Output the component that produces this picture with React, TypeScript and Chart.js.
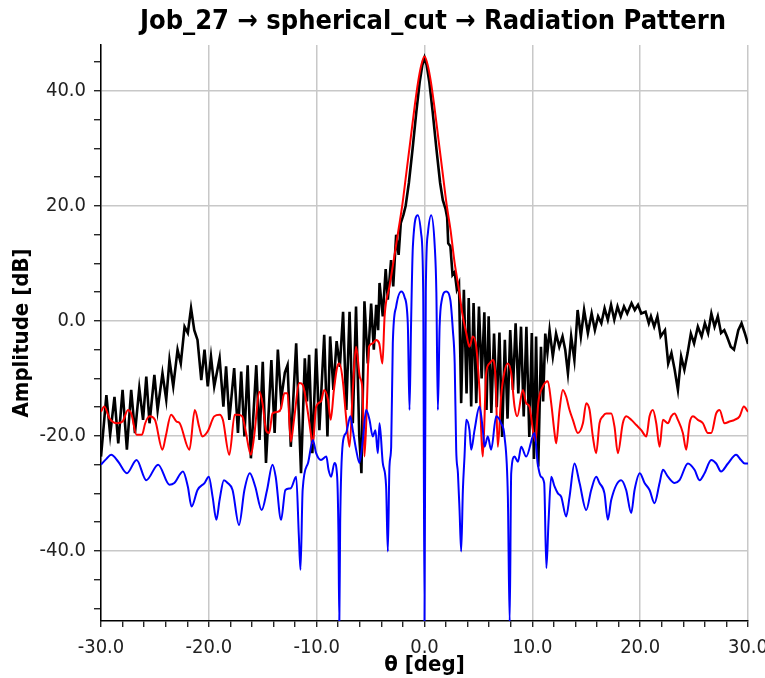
import React, { useEffect, useRef } from "react";
import { Chart, registerables } from "chart.js";

Chart.register(...registerables);

const TITLE = "Job_27 → spherical_cut → Radiation Pattern";
const X_LABEL = "θ [deg]";
const Y_LABEL = "Amplitude [dB]";

const X_MIN = -30;
const X_MAX = 30;
const Y_MIN = -52.2;
const Y_MAX = 48;

// [theta (deg), amplitude (dB)]
const blackPoints: [number, number][] = [
  [-30.0, -23.6], [-29.5, -12.9], [-29.15, -19.8], [-28.75, -13.2], [-28.4, -21.3], [-28.0, -12.0],
  [-27.6, -22.4], [-27.2, -12.0], [-26.85, -19.5], [-26.45, -11.7], [-26.1, -17.2], [-25.8, -9.7],
  [-25.5, -17.8], [-25.05, -9.4], [-24.75, -15.5], [-24.3, -9.1], [-23.95, -13.7], [-23.65, -6.8],
  [-23.3, -11.4], [-22.9, -5.0], [-22.6, -7.4], [-22.25, -1.0], [-21.95, -2.1], [-21.65, 2.2],
  [-21.35, -1.6], [-21.05, -3.3], [-20.7, -10.3], [-20.4, -5.0], [-20.1, -11.4],
  [-19.8, -6.2], [-19.5, -11.4], [-19.0, -6.5], [-18.65, -14.9], [-18.4, -7.9], [-18.1, -17.2],
  [-17.65, -8.2], [-17.3, -19.5], [-17.0, -8.8], [-16.7, -20.1], [-16.4, -7.7], [-16.1, -23.9],
  [-15.6, -7.7], [-15.3, -20.7], [-15.0, -7.1], [-14.7, -24.7], [-14.2, -6.8], [-13.9, -19.5],
  [-13.6, -5.0], [-13.3, -13.7], [-12.95, -9.0], [-12.7, -7.7], [-12.4, -21.9], [-11.9, -3.9],
  [-11.45, -26.5], [-11.1, -6.5], [-10.9, -14.0], [-10.7, -5.9], [-10.4, -23.0], [-10.05, -4.8],
  [-9.75, -19.0], [-9.3, -2.4], [-9.0, -20.1],
  [-8.75, -2.7], [-8.45, -12.0], [-8.15, -3.5], [-7.85, -8.0], [-7.55, 1.6], [-7.25, -15.5],
  [-6.95, 1.6], [-6.65, -17.8], [-6.35, 2.5], [-6.05, -20.0], [-5.85, -26.5], [-5.57, 3.4],
  [-5.26, -7.4], [-4.95, 3.0], [-4.7, -5.0], [-4.48, 2.8], [-4.3, -1.6], [-4.17, 6.6],
  [-3.87, 0.8], [-3.6, 9.0], [-3.4, 3.7], [-3.1, 10.6], [-2.9, 6.0], [-2.63, 15.0],
  [-2.4, 11.5], [-2.2, 17.0], [-1.95, 18.5], [-1.75, 20.0], [-1.45, 24.0], [-1.1, 30.0],
  [-0.75, 36.5], [-0.45, 41.5], [-0.2, 44.5], [0.0, 45.8], [0.2, 44.5], [0.45, 41.5],
  [0.75, 36.5], [1.1, 30.0], [1.45, 24.0], [1.7, 21.0], [1.95, 19.5], [2.1, 18.0],
  [2.2, 13.5], [2.4, 13.0], [2.6, 8.0], [2.8, 8.5], [3.0, 5.5], [3.2, 6.5],
  [3.4, -14.3], [3.65, 5.4], [3.9, -12.6], [4.1, 4.0], [4.33, -14.9], [4.55, 3.1],
  [4.8, -14.3], [5.05, 2.5], [5.3, -10.0], [5.55, 1.5], [5.75, -15.5], [5.95, 0.8],
  [6.2, -16.0], [6.45, -2.2], [6.7, -15.0], [6.95, -2.0], [7.2, -20.2], [7.45, -3.3],
  [7.7, -17.0], [7.95, -1.6], [8.2, -12.0], [8.45, -0.4], [8.7, -12.6], [8.95, -1.0],
  [9.2, -16.6], [9.45, -1.0], [9.72, -20.2], [9.95, -2.1], [10.15, -24.0], [10.35, -2.7],
  [10.55, -25.3], [10.8, -4.5], [11.0, -14.0], [11.2, -2.2], [11.4, -5.5], [11.6, -1.6],
  [11.9, -6.2], [12.2, -2.2], [12.5, -4.5], [12.8, -2.7], [13.05, -5.0], [13.3, -9.1],
  [13.6, -2.7], [13.9, -6.8], [14.2, 1.9], [14.5, -2.7], [14.8, 1.9], [15.15, -2.1],
  [15.5, 1.3], [15.8, -1.6], [16.1, 0.8], [16.4, -0.4], [16.7, 2.2], [17.0, 0.2],
  [17.3, 2.8], [17.6, 0.2], [17.9, 2.5], [18.2, 0.8], [18.5, 2.5], [18.8, 1.3],
  [19.2, 3.1], [19.5, 1.9], [19.8, 2.8], [20.1, 1.3], [20.5, 1.6], [20.8, -0.4],
  [21.0, 0.8], [21.3, -1.0], [21.6, 0.8], [21.9, -2.7], [22.3, -1.6], [22.6, -7.4],
  [22.9, -5.6], [23.2, -8.5], [23.5, -12.0], [23.8, -6.2], [24.1, -8.5], [24.4, -5.6],
  [24.7, -2.2], [25.0, -3.9], [25.35, -1.0], [25.7, -2.7], [26.0, -0.4], [26.3, -2.1],
  [26.6, 1.3], [26.9, -1.0], [27.2, 0.8], [27.5, -2.1], [27.8, -1.6], [28.05, -2.7],
  [28.4, -4.5], [28.7, -5.0], [29.1, -1.6], [29.4, -0.4], [29.7, -2.1], [30.0, -4.0],
];

const redPoints: [number, number][] = [
  [-30.0, -15.8], [-29.7, -14.9], [-29.2, -17.0], [-28.5, -17.8], [-28.0, -17.5], [-27.5, -15.5],
  [-27.2, -16.1], [-26.7, -19.8], [-26.2, -19.8], [-25.9, -17.8], [-25.5, -16.6], [-25.0, -17.2],
  [-24.3, -22.4], [-24.0, -20.1], [-23.5, -16.3], [-23.0, -17.5], [-22.7, -17.8], [-21.8, -22.4],
  [-21.3, -15.5], [-20.9, -18.4], [-20.6, -20.1], [-20.1, -19.2], [-19.5, -16.6], [-19.0, -16.3],
  [-18.7, -17.2], [-18.1, -23.3], [-17.6, -16.3], [-17.3, -16.3], [-16.9, -16.6], [-16.6, -19.0],
  [-16.1, -23.3], [-15.8, -20.1], [-15.3, -12.3], [-15.0, -14.6], [-14.7, -19.0], [-14.4, -19.5],
  [-14.1, -16.1], [-13.6, -15.8], [-13.3, -15.2], [-13.0, -12.6], [-12.7, -12.6], [-12.4, -21.0],
  [-12.1, -17.2], [-11.6, -10.8], [-11.3, -11.1], [-10.8, -16.1], [-10.5, -20.1], [-10.35, -21.3],
  [-10.05, -14.9], [-9.6, -14.0], [-9.3, -12.0], [-8.95, -13.7], [-8.7, -17.2], [-8.4, -12.0],
  [-8.1, -8.0], [-7.9, -7.4], [-7.6, -10.0], [-7.25, -17.2], [-6.95, -21.9], [-6.65, -12.0],
  [-6.35, -4.5], [-6.0, -9.7], [-5.75, -12.0], [-5.57, -23.6], [-5.35, -15.0], [-5.15, -4.5],
  [-4.8, -3.9], [-4.5, -3.3], [-4.2, -3.9], [-3.9, -7.4], [-3.7, 0.8], [-3.25, 6.0],
  [-2.8, 11.2], [-2.4, 16.0], [-2.07, 20.0], [-1.7, 25.5], [-1.3, 31.5], [-0.9, 37.5],
  [-0.6, 41.5], [-0.3, 44.5], [0.0, 46.0], [0.3, 44.5], [0.6, 41.5], [0.9, 37.5],
  [1.3, 31.5], [1.7, 25.5], [2.07, 20.0], [2.4, 16.0], [2.8, 10.0], [3.2, 5.4],
  [3.5, 1.3], [3.87, -2.1], [4.17, -4.5], [4.48, -2.7], [4.8, -4.5], [5.1, -12.0],
  [5.41, -23.6], [5.72, -9.1], [6.03, -7.4], [6.34, -6.8], [6.6, -10.3], [6.8, -21.9],
  [7.1, -13.2], [7.4, -9.0], [7.73, -7.4], [8.04, -9.1], [8.35, -14.9], [8.6, -16.6],
  [9.12, -12.0], [9.43, -14.3], [9.74, -14.9], [10.05, -19.0], [10.3, -21.0], [10.55, -14.3],
  [10.98, -11.4], [11.44, -10.5], [11.75, -14.3], [12.06, -19.5], [12.21, -21.3], [12.52, -15.5],
  [12.83, -12.0], [13.14, -13.2], [13.45, -15.5], [13.76, -17.2], [14.22, -19.5], [14.69, -17.8],
  [15.0, -14.3], [15.31, -15.5], [15.61, -20.1], [15.92, -23.0], [16.23, -17.8], [16.54, -16.6],
  [16.85, -16.1], [17.32, -16.1], [17.62, -18.4], [17.93, -23.0], [18.39, -17.8], [18.71, -16.6],
  [19.17, -17.2], [19.64, -18.1], [20.1, -19.0], [20.57, -20.1], [20.87, -16.6], [21.18, -15.5],
  [21.49, -17.8], [21.8, -21.9], [22.11, -17.2], [22.57, -17.8], [22.88, -16.6], [23.19, -16.1],
  [23.5, -17.2], [23.96, -19.5], [24.27, -22.4], [24.58, -17.8], [24.89, -16.6], [25.35, -17.2],
  [25.82, -17.8], [26.28, -19.5], [26.59, -19.5], [27.05, -16.1], [27.36, -15.5], [27.83, -17.8],
  [28.29, -17.5], [28.76, -17.2], [29.22, -16.6], [29.62, -14.9], [30.0, -15.8],
];

const bluePoints: [number, number][] = [
  [-30.0, -25.0], [-29.5, -24.0], [-29.06, -23.3], [-28.4, -24.5], [-27.6, -26.5], [-26.7, -24.2],
  [-25.8, -27.7], [-24.7, -25.0], [-23.65, -28.5], [-23.2, -28.2], [-22.4, -26.2], [-21.95, -28.8],
  [-21.6, -32.3], [-21.05, -29.4], [-20.4, -28.2], [-20.0, -27.1], [-19.65, -30.6], [-19.3, -34.6],
  [-19.0, -31.1], [-18.6, -27.7], [-18.25, -28.2], [-17.8, -29.4], [-17.2, -35.5], [-16.7, -29.4],
  [-16.2, -26.5], [-15.7, -28.8], [-15.1, -32.9], [-14.6, -29.4], [-14.1, -25.0], [-13.8, -27.1],
  [-13.3, -34.6], [-12.9, -29.4], [-12.4, -29.1], [-11.9, -27.1], [-11.65, -37.5], [-11.5, -43.3],
  [-11.3, -29.4], [-10.8, -24.7], [-10.35, -20.7], [-10.05, -23.0], [-9.6, -24.2], [-9.1, -23.6],
  [-8.9, -25.9], [-8.66, -27.1], [-8.35, -24.7], [-8.1, -27.1], [-7.98, -36.9], [-7.9, -52.5],
  [-7.82, -35.2], [-7.58, -21.3], [-7.27, -19.5], [-6.87, -16.6], [-6.65, -19.0], [-6.34, -22.4],
  [-6.03, -24.7], [-5.72, -20.7], [-5.41, -15.5], [-5.1, -17.2], [-4.8, -20.1], [-4.55, -19.0],
  [-4.33, -23.0], [-4.17, -17.8], [-3.87, -24.7], [-3.56, -28.8], [-3.4, -40.1], [-3.25, -25.3],
  [-3.09, -21.9], [-2.94, -3.9], [-2.63, 2.5], [-2.16, 5.1], [-1.86, 4.2], [-1.55, -0.4],
  [-1.39, -15.5], [-1.25, -1.0], [-1.08, 12.9], [-0.62, 18.4], [-0.31, 15.2], [-0.12, 5.0],
  [0.0, -52.5], [0.12, 5.0], [0.31, 15.2], [0.62, 18.4], [0.95, 13.0], [1.1, 5.0],
  [1.24, -15.5], [1.4, -1.0], [1.6, 3.6], [2.01, 5.1], [2.4, 3.6], [2.63, -1.6],
  [2.8, -7.4], [2.94, -22.4], [3.1, -26.5], [3.25, -32.9], [3.4, -40.1], [3.56, -29.4],
  [3.71, -23.6], [3.87, -17.2], [4.17, -19.0], [4.33, -22.4], [4.64, -19.0], [5.1, -14.9],
  [5.41, -19.0], [5.57, -21.9], [5.87, -20.1], [6.18, -22.4], [6.65, -16.6], [7.1, -17.8],
  [7.42, -20.1], [7.73, -30.5], [7.9, -52.5], [8.04, -26.5], [8.35, -23.6], [8.66, -24.5],
  [8.97, -21.9], [9.43, -23.6], [10.2, -19.5], [10.5, -24.8], [10.8, -27.1], [11.1, -28.2],
  [11.3, -43.0], [11.5, -35.0], [11.75, -27.1], [12.06, -28.8], [12.37, -30.0], [12.68, -30.6],
  [13.14, -34.0], [13.45, -30.6], [13.91, -24.8], [14.38, -28.2], [15.0, -32.9], [15.46, -29.4],
  [15.92, -27.1], [16.23, -28.2], [16.69, -30.0], [17.0, -34.6], [17.32, -31.1], [18.24, -27.7],
  [18.7, -29.4], [19.17, -33.4], [19.48, -29.4], [19.97, -26.5], [20.41, -28.2], [20.87, -29.4],
  [21.33, -31.7], [21.8, -28.2], [22.11, -25.9], [22.57, -27.1], [23.19, -28.2], [23.65, -27.7],
  [24.43, -24.8], [25.04, -25.9], [25.51, -27.7], [25.97, -26.5], [26.59, -24.2], [27.05, -24.8],
  [27.5, -26.2], [28.14, -24.8], [28.9, -23.3], [29.35, -24.2], [29.7, -24.8], [30.0, -24.8],
];

const FONT = '"DejaVu Sans Condensed", "DejaVu Sans", sans-serif';

const isMultiple = (v: any, step: number) => {
  if (typeof v !== "number") return false;
  const r = Math.round(v);
  return Math.abs(v - r) < 1e-6 && r % step === 0;
};

const titlePlugin = {
  id: "customTitle",
  afterDraw(chart: any) {
    const ctx = chart.ctx;
    ctx.save();
    ctx.font = `bold 27px ${FONT}`;
    ctx.fillStyle = "#000";
    ctx.textAlign = "center";
    ctx.textBaseline = "middle";
    ctx.fillText(TITLE, 433, 22);
    ctx.restore();
  },
};

export default function App() {
  const ref = useRef<HTMLCanvasElement>(null);

  useEffect(() => {
    const canvas = ref.current;
    if (!canvas) return;
    const toXY = (pts: [number, number][]) => pts.map(([x, y]) => ({ x, y }));
    const common = { showLine: true, pointRadius: 0, pointHoverRadius: 0, fill: false };
    const chart = new Chart(canvas, {
      type: "scatter",
      data: {
        datasets: [
          { ...common, label: "blue", data: toXY(bluePoints), borderColor: "#0000ff", borderWidth: 2, cubicInterpolationMode: "monotone" },
          { ...common, label: "red", data: toXY(redPoints), borderColor: "#ff0000", borderWidth: 2, cubicInterpolationMode: "monotone" },
          { ...common, label: "black", data: toXY(blackPoints), borderColor: "#000000", borderWidth: 2.6, tension: 0 },
        ] as any,
      },
      options: {
        responsive: false,
        animation: false,
        layout: { padding: { top: 45, right: 17, left: 0, bottom: 0 } },
        plugins: {
          legend: { display: false },
          tooltip: { enabled: false },
          title: { display: false },
        },
        scales: {
          x: {
            type: "linear",
            min: X_MIN,
            max: X_MAX,
            afterFit: (s: any) => {
              s.height = 57;
              s.paddingLeft = 0;
              s.paddingRight = 0;
            },
            border: { display: true, color: "#000", width: 1.5 },
            grid: {
              color: (c: any) => (isMultiple(c.tick && c.tick.value, 10) ? "#c8c8c8" : "rgba(0,0,0,0)"),
              lineWidth: 1.5,
              tickColor: "#000",
              tickLength: 6,
              tickWidth: 1.2,
            },
            ticks: {
              stepSize: 2,
              autoSkip: false,
              maxRotation: 0,
              minRotation: 0,
              includeBounds: false,
              padding: 9,
              color: "#222",
              font: { family: FONT, size: 20 },
              callback: (v: any) => (isMultiple(v, 10) ? Number(v).toFixed(1) : ""),
            },
            title: {
              display: true,
              text: X_LABEL,
              color: "#000",
              font: { family: FONT, size: 22, weight: "bold", lineHeight: 1.0 },
              padding: { top: 0, bottom: 2 },
            },
          },
          y: {
            type: "linear",
            min: Y_MIN,
            max: Y_MAX,
            afterFit: (s: any) => {
              s.width = 101;
              s.paddingTop = 0;
              s.paddingBottom = 0;
            },
            border: { display: true, color: "#000", width: 1.5 },
            grid: {
              color: (c: any) => (isMultiple(c.tick && c.tick.value, 20) ? "#c8c8c8" : "rgba(0,0,0,0)"),
              lineWidth: 1.5,
              tickColor: "#000",
              tickLength: 7,
              tickWidth: 1.2,
            },
            ticks: {
              stepSize: 5,
              autoSkip: false,
              includeBounds: false,
              padding: 8,
              color: "#222",
              font: { family: FONT, size: 20 },
              callback: (v: any) => (isMultiple(v, 20) ? Number(v).toFixed(1) : ""),
            },
            title: {
              display: true,
              text: Y_LABEL,
              color: "#000",
              font: { family: FONT, size: 22, weight: "bold" },
              padding: { top: 9, bottom: 0 },
            },
          },
        },
      } as any,
      plugins: [titlePlugin],
    });
    return () => chart.destroy();
  }, []);

  return (
    <canvas
      ref={ref}
      width={765}
      height={678}
      style={{ position: "fixed", left: 0, top: 0, display: "block", background: "#fff" }}
    />
  );
}
